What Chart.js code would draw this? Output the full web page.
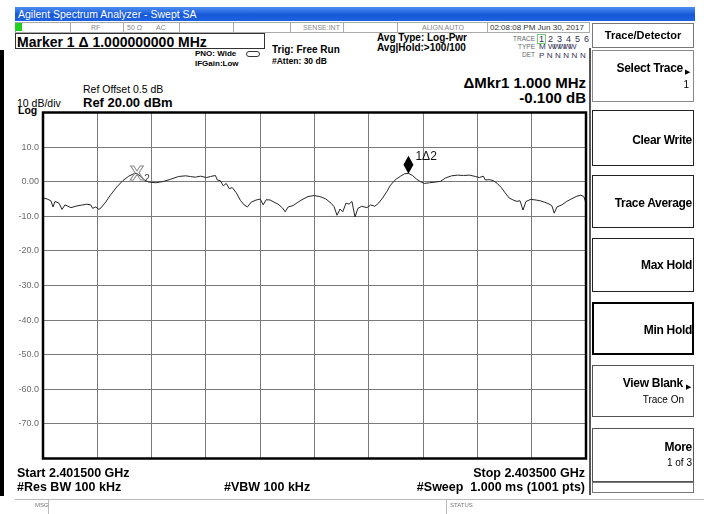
<!DOCTYPE html>
<html>
<head>
<meta charset="utf-8">
<script src="https://cdn.jsdelivr.net/npm/chart.js@4.4.1/dist/chart.umd.min.js"></script>
<style>
  body { margin: 0; width: 704px; height: 514px; position: relative; overflow: hidden; background: #fff;
         font-family: "Liberation Sans", Arial, sans-serif; color: #000; }
  .t { position: absolute; white-space: nowrap; line-height: 1; }
  .b { font-weight: bold; }
  .r { text-align: right; }
  .box { position: absolute; box-sizing: border-box; }
  .vl { position: absolute; top: 22px; height: 11px; width: 1px; background: #aaa; }
  #plot { position: absolute; left: 0; top: 100px; }
</style>
</head>
<body>

<!-- title bar + status row -->
<div class="box" style="left:15px;top:7px;width:680px;height:14px;background:linear-gradient(#4d8ef2,#1658d8 55%,#1d62e2);"></div>
<div class="t" style="left:18px;top:9px;font-size:10.5px;color:#fff;">Agilent Spectrum Analyzer - Swept SA</div>
<div class="box" style="left:15px;top:22px;width:575px;height:11px;border:1px solid #aaa;"></div>
<div class="box" style="left:15px;top:23px;width:7px;height:8px;background:#1fd01f;"></div>
<div class="vl" style="left:70px"></div><div class="vl" style="left:123px"></div>
<div class="vl" style="left:179px"></div><div class="vl" style="left:233px"></div>
<div class="vl" style="left:290px"></div><div class="vl" style="left:343px"></div>
<div class="vl" style="left:397px"></div><div class="vl" style="left:487px"></div>
<div class="t" style="left:91px;top:24px;font-size:7px;color:#888;">RF</div>
<div class="t" style="left:127px;top:24px;font-size:7px;color:#888;">50 Ω</div>
<div class="t" style="left:156px;top:24px;font-size:7px;color:#888;">AC</div>
<div class="t" style="left:303px;top:24px;font-size:7px;color:#888;">SENSE:INT</div>
<div class="t" style="left:422px;top:24px;font-size:7px;color:#888;">ALIGN AUTO</div>
<div class="t" style="left:490px;top:23.5px;font-size:8px;color:#333;">02:08:08 PM Jun 30, 2017</div>

<!-- measurement header -->
<div class="box" style="left:15px;top:33px;width:250px;height:16px;border:1px solid #333;"></div>
<div class="t b" style="left:17px;top:34.5px;font-size:14px;">Marker 1 Δ 1.000000000 MHz</div>
<div class="t b" style="left:195px;top:50px;font-size:8px;">PNO: Wide</div>
<div class="box" style="left:246px;top:51px;width:14px;height:6px;border:1px solid #333;border-radius:4px;"></div>
<div class="t b" style="left:195px;top:60px;font-size:8px;">IFGain:Low</div>
<div class="t b" style="left:272px;top:45px;font-size:10px;">Trig: Free Run</div>
<div class="t b" style="left:272px;top:57px;font-size:8.5px;">#Atten: 30 dB</div>
<div class="t b" style="left:377px;top:33px;font-size:10px;">Avg Type: Log-Pwr</div>
<div class="t b" style="left:377px;top:43px;font-size:10px;">Avg|Hold:&gt;100/100</div>
<div class="t r" style="left:495px;width:40px;top:36px;font-size:6.5px;color:#666;">TRACE</div>
<div class="t r" style="left:495px;width:40px;top:44px;font-size:6.5px;color:#666;">TYPE</div>
<div class="t r" style="left:495px;width:40px;top:52px;font-size:6.5px;color:#666;">DET</div>
<div class="box" style="left:537px;top:34px;width:9px;height:10px;border:1px solid #7c7;"></div>
<div class="t" style="left:539px;top:34.5px;font-size:9px;color:#335;word-spacing:1.5px;">1 2 3 4 5 6</div>
<div class="t" style="left:539px;top:43px;font-size:8px;color:#335;">M <span style="letter-spacing:-2.3px">WWWWW</span></div>
<div class="t" style="left:539px;top:51.5px;font-size:8px;color:#335;word-spacing:0.3px;">P N N N N N</div>

<div class="t b r" style="left:386px;width:200px;top:75px;font-size:15px;">ΔMkr1 1.000 MHz</div>
<div class="t b r" style="left:386px;width:200px;top:90px;font-size:15px;">-0.100 dB</div>
<div class="t" style="left:83px;top:84px;font-size:10.5px;">Ref Offset 0.5 dB</div>
<div class="t b" style="left:83px;top:95.5px;font-size:13px;">Ref 20.00 dBm</div>
<div class="t" style="left:17px;top:98px;font-size:10.5px;">10 dB/div</div>
<div class="t b" style="left:18px;top:105px;font-size:10.5px;">Log</div>

<!-- left bezel -->
<div class="box" style="left:0;top:50px;width:4px;height:446px;background:#000;"></div>

<canvas id="plot" width="600" height="370"></canvas>

<!-- footer -->
<div class="t b" style="left:17px;top:467px;font-size:12.5px;">Start 2.401500 GHz</div>
<div class="t b r" style="left:385px;width:200px;top:467px;font-size:12.5px;">Stop 2.403500 GHz</div>
<div class="t b" style="left:17px;top:481px;font-size:12.5px;">#Res BW 100 kHz</div>
<div class="t b" style="left:224px;top:481px;font-size:12.5px;">#VBW 100 kHz</div>
<div class="t b r" style="left:335px;width:250px;top:481px;font-size:12.5px;">#Sweep&nbsp; 1.000 ms (1001 pts)</div>
<div class="box" style="left:15px;top:499px;width:689px;height:15px;border-top:1px solid #bbb;"></div>
<div class="box" style="left:48px;top:499px;width:1px;height:15px;background:#bbb;"></div>
<div class="box" style="left:446px;top:499px;width:1px;height:15px;background:#bbb;"></div>
<div class="t" style="left:35px;top:502px;font-size:6px;color:#777;">MSG</div>
<div class="t" style="left:450px;top:502px;font-size:6px;color:#777;">STATUS</div>

<!-- softkey panel -->
<div class="box" style="left:589px;top:48px;width:2px;height:447px;background:#555;"></div>
<div class="box" style="left:592px;top:23px;width:102px;height:25px;border:1px solid #777;"></div>
<div class="t b" style="left:592px;width:102px;top:29.5px;font-size:11px;text-align:center;">Trace/Detector</div>

<div class="box" style="left:592px;top:50px;width:102px;height:52px;border:1px solid #888;"></div>
<div class="t b r" style="left:583px;width:100px;top:62px;font-size:12px;letter-spacing:-0.3px;">Select Trace</div>
<div class="t" style="left:685px;top:68px;font-size:7px;">▶</div>
<div class="t r" style="left:589px;width:100px;top:80px;font-size:10px;">1</div>

<div class="box" style="left:592px;top:110px;width:102px;height:56px;border:1.5px solid #222;"></div>
<div class="t b r" style="left:592px;width:100px;top:134px;font-size:12px;letter-spacing:-0.3px;">Clear Write</div>

<div class="box" style="left:592px;top:175px;width:102px;height:53px;border:1.5px solid #222;"></div>
<div class="t b r" style="left:592px;width:100px;top:197px;font-size:12px;letter-spacing:-0.3px;">Trace Average</div>

<div class="box" style="left:592px;top:238px;width:102px;height:54px;border:1.5px solid #222;"></div>
<div class="t b r" style="left:592px;width:100px;top:259px;font-size:12px;letter-spacing:-0.3px;">Max Hold</div>

<div class="box" style="left:592px;top:302px;width:102px;height:53px;border:2.5px solid #000;"></div>
<div class="t b r" style="left:592px;width:100px;top:324px;font-size:12px;letter-spacing:-0.3px;">Min Hold</div>

<div class="box" style="left:592px;top:365px;width:102px;height:52px;border:1px solid #555;"></div>
<div class="t b r" style="left:583px;width:100px;top:377px;font-size:12px;letter-spacing:-0.3px;">View Blank</div>
<div class="t" style="left:686px;top:383px;font-size:7px;">▶</div>
<div class="t r" style="left:584px;width:100px;top:395px;font-size:10px;">Trace On</div>

<div class="box" style="left:592px;top:428px;width:102px;height:54px;border:1px solid #555;"></div>
<div class="t b r" style="left:592px;width:100px;top:441px;font-size:12px;letter-spacing:-0.3px;">More</div>
<div class="t r" style="left:592px;width:100px;top:458px;font-size:10px;">1 of 3</div>
<div class="box" style="left:592px;top:482px;width:102px;height:11px;border:1px solid #777;"></div>

<script>
// sweep: 2.401500 GHz to 2.403500 GHz, values in MHz / dBm
const startFreq = 2401.5;
const stopFreq = 2403.5;
const xGrid = [2401.5, 2401.7, 2401.9, 2402.1, 2402.3, 2402.5, 2402.7, 2402.9, 2403.1, 2403.3, 2403.5];
const refLevel = 20;
const bottomLevel = -80;

const traceFreq = [
  2401.500, 2401.515, 2401.529, 2401.537, 2401.544, 2401.559, 2401.570, 2401.581, 2401.603, 2401.625,
  2401.647, 2401.661, 2401.676, 2401.683, 2401.694, 2401.706, 2401.713, 2401.728, 2401.750, 2401.772,
  2401.794, 2401.816, 2401.834, 2401.845, 2401.860, 2401.874, 2401.889, 2401.915, 2401.940, 2401.970,
  2401.999, 2402.025, 2402.043, 2402.061, 2402.080, 2402.102, 2402.117, 2402.135, 2402.142, 2402.153,
  2402.164, 2402.175, 2402.186, 2402.197, 2402.212, 2402.227, 2402.241, 2402.253, 2402.267, 2402.285,
  2402.300, 2402.311, 2402.322, 2402.337, 2402.351, 2402.366, 2402.381, 2402.392, 2402.403, 2402.421,
  2402.436, 2402.454, 2402.476, 2402.498, 2402.520, 2402.542, 2402.561, 2402.572, 2402.583, 2402.594,
  2402.604, 2402.616, 2402.627, 2402.638, 2402.649, 2402.660, 2402.674, 2402.693, 2402.707, 2402.722,
  2402.736, 2402.751, 2402.766, 2402.780, 2402.791, 2402.802, 2402.817, 2402.832, 2402.846, 2402.861,
  2402.875, 2402.890, 2402.905, 2402.924, 2402.946, 2402.964, 2402.983, 2403.005, 2403.027, 2403.049,
  2403.071, 2403.093, 2403.107, 2403.122, 2403.129, 2403.144, 2403.159, 2403.173, 2403.188, 2403.202,
  2403.217, 2403.232, 2403.246, 2403.257, 2403.268, 2403.279, 2403.297, 2403.316, 2403.331, 2403.346,
  2403.360, 2403.374, 2403.383, 2403.393, 2403.411, 2403.429, 2403.448, 2403.466, 2403.481, 2403.492,
  2403.500
];
const traceLevel = [
  -4.7, -5.0, -5.5, -7.3, -5.7, -6.2, -8.0, -6.7, -7.5, -7.0,
  -6.7, -6.5, -6.7, -7.7, -7.3, -8.0, -7.6, -6.2, -3.7, -1.5,
  0.3, 1.6, 2.3, 2.4, 1.5, 0.5, -0.1, -0.3, 0.0, 0.7,
  1.5, 1.7, 1.5, 1.3, 1.6, 1.2, 1.5, 1.8, 0.5, 0.3,
  -1.2, -0.5, -2.0, -1.7, -3.2, -5.4, -6.7, -7.3, -5.9, -5.3,
  -5.0, -6.7, -5.2, -5.3, -5.9, -6.5, -7.5, -8.7, -7.3, -6.9,
  -6.1, -5.2, -4.3, -4.0, -4.3, -5.0, -6.2, -7.2, -9.7, -7.9,
  -8.7, -6.2, -6.5, -5.7, -10.2, -7.7, -7.1, -7.5, -6.7, -7.1,
  -6.2, -4.7, -2.9, -1.0, 0.0, 0.8, 1.6, 2.3, 2.4, 1.8,
  0.8, 0.0, -0.5, -0.3, -0.1, 0.1, 1.1, 1.7, 1.9, 1.8,
  1.9, 1.5, 1.2, 1.6, 0.5, 0.6, 0.3, -0.5, -1.7, -3.2,
  -4.7, -5.3, -5.7, -5.5, -8.2, -5.7, -5.1, -5.3, -5.5, -5.9,
  -6.3, -6.9, -9.1, -7.3, -6.7, -5.7, -4.9, -4.2, -3.9, -4.3,
  -6.2
];

// marker 1 (delta) and marker 2 (reference)
const markerFreq = [2402.846, 2401.846];
const markerLevel = [2.3, 2.4];

const FONT = '"Liberation Sans", Arial, sans-serif';

const overlay = {
  id: "overlay",
  afterDatasetsDraw(chart) {
    const { ctx, scales: { x, y } } = chart;
    ctx.save();

    // reference marker: hollow X with subscript 2
    let px = x.getPixelForValue(markerFreq[1]);
    let py = y.getPixelForValue(markerLevel[1]);
    ctx.font = "bold 21px " + FONT;
    ctx.textAlign = "center";
    ctx.textBaseline = "middle";
    ctx.strokeStyle = "#8c8c8c";
    ctx.lineWidth = 1;
    ctx.strokeText("X", px, py + 1);
    ctx.font = "10px " + FONT;
    ctx.fillStyle = "#444";
    ctx.fillText("2", px + 10, py + 6);

    // delta marker: filled diamond sitting on the trace
    px = x.getPixelForValue(markerFreq[0]);
    py = y.getPixelForValue(markerLevel[0]);
    ctx.beginPath();
    ctx.moveTo(px, py);
    ctx.lineTo(px + 5, py - 9);
    ctx.lineTo(px, py - 18);
    ctx.lineTo(px - 5, py - 9);
    ctx.closePath();
    ctx.fillStyle = "#000";
    ctx.fill();
    ctx.font = "12px " + FONT;
    ctx.textAlign = "left";
    ctx.fillStyle = "#111";
    ctx.fillText("1Δ2", px + 7, py - 17);
    ctx.restore();
  },
  afterDraw(chart) {
    const { ctx, chartArea: a } = chart;
    ctx.save();
    ctx.strokeStyle = "#000";
    ctx.lineWidth = 2.5;
    ctx.strokeRect(a.left, a.top, a.right - a.left, a.bottom - a.top);
    ctx.restore();
  }
};

new Chart(document.getElementById("plot"), {
  type: "line",
  data: {
    datasets: [{
      data: traceFreq.map((f, i) => ({ x: f, y: traceLevel[i] })),
      borderColor: "#262626",
      borderWidth: 1,
      pointRadius: 0,
      tension: 0
    }]
  },
  options: {
    responsive: false,
    animation: false,
    layout: { padding: { left: 0, top: 12.5, right: 14, bottom: 11.5 } },
    plugins: { legend: { display: false }, tooltip: { enabled: false } },
    scales: {
      x: {
        type: "linear",
        min: startFreq,
        max: stopFreq,
        afterBuildTicks: axis => { axis.ticks = xGrid.map(value => ({ value })); },
        afterFit: axis => { axis.height = 0; },
        ticks: { display: false },
        grid: { color: "#7a7a7a", lineWidth: 1, drawTicks: false },
        border: { display: false }
      },
      y: {
        min: bottomLevel,
        max: refLevel,
        afterFit: axis => { axis.width = 43; },
        ticks: {
          stepSize: 10,
          padding: 4,
          color: "#6a6a6a",
          font: { size: 9, family: FONT },
          callback: v => (v === refLevel || v === bottomLevel) ? null : (v === 0 ? "0.00" : v.toFixed(1))
        },
        grid: { color: "#7a7a7a", lineWidth: 1, drawTicks: false },
        border: { display: false }
      }
    }
  },
  plugins: [overlay]
});
</script>
</body>
</html>
